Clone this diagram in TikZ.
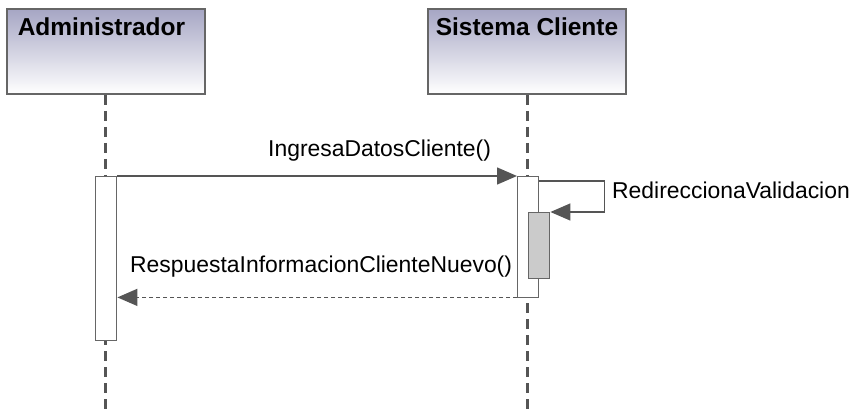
\documentclass[tikz,border=0pt]{standalone}
\usepackage{fontspec}
\setmainfont{Liberation Sans}
\usetikzlibrary{arrows.meta}
\definecolor{linegray}{HTML}{555555}
\definecolor{boxedge}{HTML}{666666}
\definecolor{headtop}{HTML}{A6A6C4}
\definecolor{nested}{HTML}{CBCBCB}
\begin{document}
\begin{tikzpicture}[x=1pt,y=-1pt,
  actor/.style={draw=boxedge, line width=2pt, top color=headtop, bottom color=white,
    minimum width=198pt, minimum height=85pt, inner sep=0pt},
  title/.style={font=\fontsize{24.5}{28}\selectfont\bfseries, text=black, inner sep=0pt, anchor=north},
  lifeline/.style={draw=linegray, line width=3pt, dash pattern=on 10pt off 6pt},
  act/.style={draw=boxedge, line width=1.4pt, fill=white, minimum width=21pt, inner sep=0pt, anchor=north west},
  msg/.style={draw=linegray, line width=1.4pt, -{Triangle[length=20pt,width=17pt]}},
  ret/.style={draw=linegray, line width=1.4pt, dash pattern=on 4pt off 3pt, -{Triangle[length=20pt,width=17pt]}},
  lbl/.style={font=\fontsize{22.9}{26}\selectfont, text=black, inner sep=0pt, anchor=base west}]
\useasboundingbox (0,0) rectangle (852,409);

% participant heads
\node[actor] (admin) at (106,51.5) {};
\node[title] (adminT) at (101.5,17.5) {Administrador};
\node[actor] (sys) at (527,51.5) {};
\node[title] (sysT) at (527,17.5) {Sistema Cliente};

% lifeline ends
\coordinate (adminEnd) at (105,409);
\coordinate (sysEnd) at (527,409);
\draw[lifeline] ([xshift=-1pt]admin.south) -- (adminEnd);
\draw[lifeline] (sys.south) -- (sysEnd);

% activation bars
\node[act, minimum height=164pt] (actA) at (95,176) {};
\node[act, minimum height=121pt] (actS) at (517,176) {};
\node[act, minimum height=66pt, fill=nested] (actN) at (528,212) {};

% messages
\draw[msg] (actA.north east) -- (actS.north west);
\node[lbl] (m1) at (268,157) {IngresaDatosCliente()};

\draw[msg] ([yshift=-5pt]actS.north east) -- ++(65,0) |- (actN.north east);
\node[lbl] (m2) at (612,199) {RedireccionaValidacion};

\coordinate (retStart) at ([yshift=1pt]actS.south west);
\draw[ret] (retStart) -- (actA.east |- retStart);
\node[lbl] (m3) at (130,272) {RespuestaInformacionClienteNuevo()};
\end{tikzpicture}
\end{document}
